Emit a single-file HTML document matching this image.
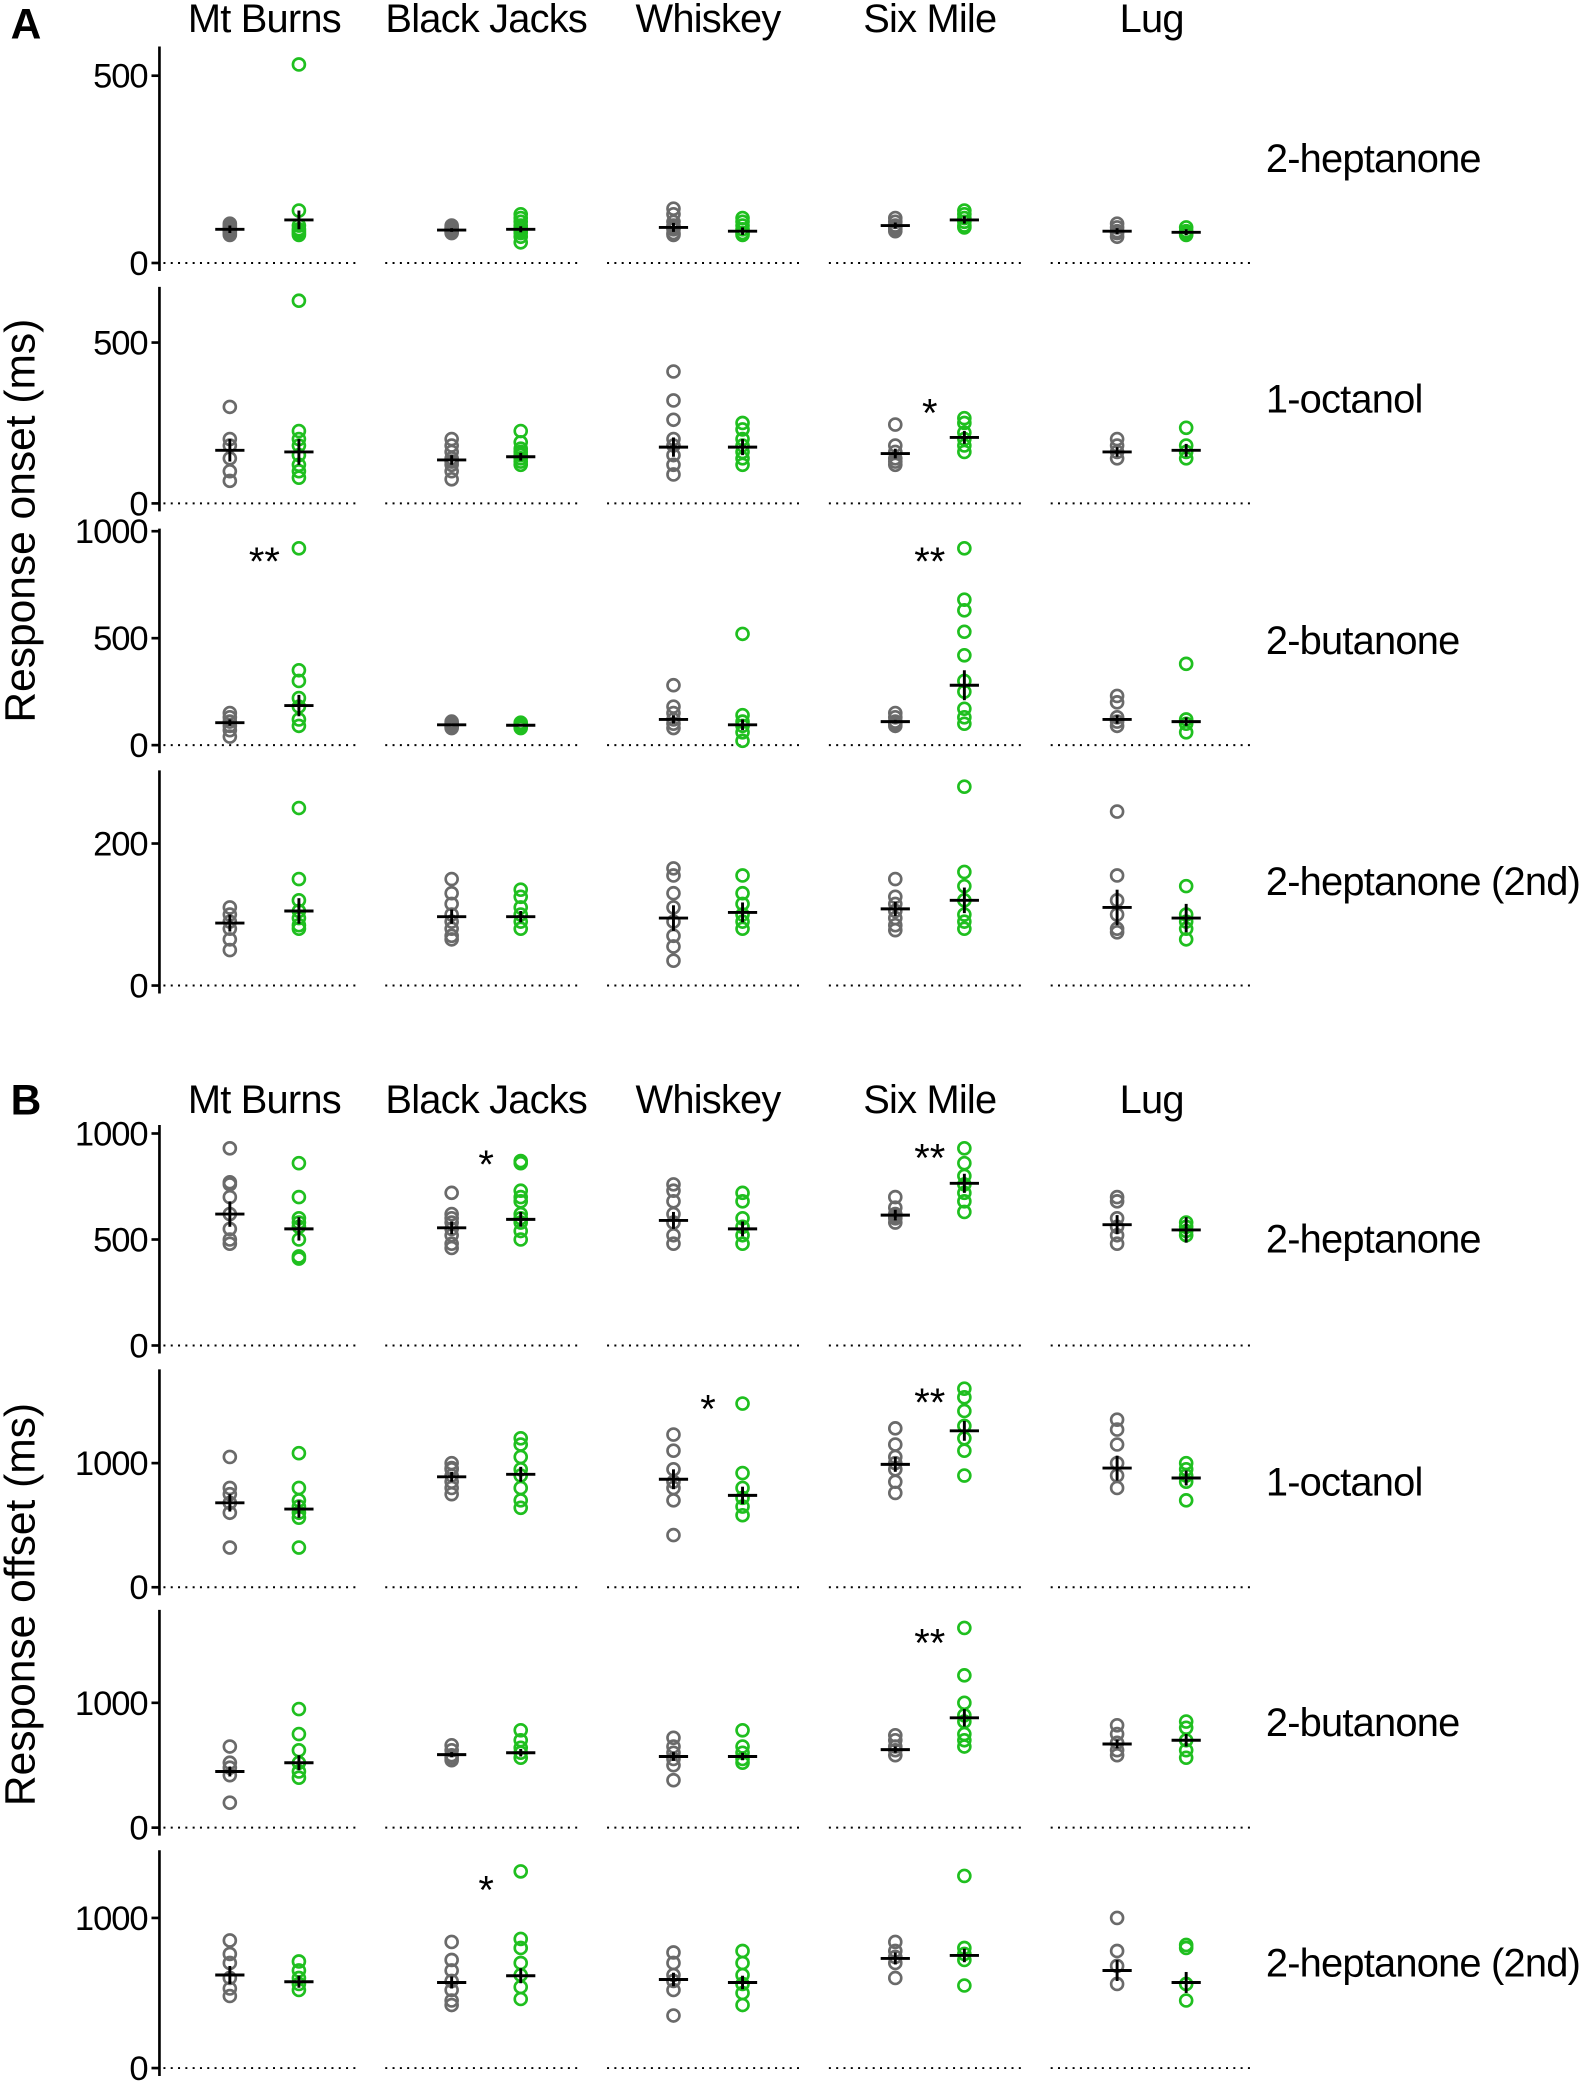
<!DOCTYPE html>
<html><head><meta charset="utf-8"><style>
html,body{margin:0;padding:0;background:#fff}
svg{display:block}
text{font-family:"Liberation Sans",Arial,sans-serif;fill:#000}
</style></head><body>
<svg id="chart" xmlns="http://www.w3.org/2000/svg" width="1594" height="2084" viewBox="0 0 1200 1569">
<g id="static">
<text x="8" y="29" font-size="32" font-weight="bold">A</text>
<text x="8" y="839" font-size="32" font-weight="bold">B</text>
<text transform="translate(26,392) rotate(-90)" text-anchor="middle" font-size="32">Response onset (ms)</text>
<text transform="translate(26,1208) rotate(-90)" text-anchor="middle" font-size="32">Response offset (ms)</text>
</g>
<g id="plot"></g>
</svg>
<script>
const sites = ["Mt Burns","Black Jacks","Whiskey","Six Mile","Lug"];
const odors = ["2-heptanone","1-octanol","2-butanone","2-heptanone (2nd)"];
const onsetPoints = [
 [[[75,80,85,88,90,95,100,105],[530,140,100,90,85,80,75]],[[80,83,85,88,90,93,95,100],[55,70,80,85,90,95,100,110,120,130]],[[145,130,110,100,95,90,80,75],[120,110,100,90,80,75]],[[120,110,100,97,95,90,85],[140,130,120,110,100,95]],[[105,95,85,80,70],[95,85,80,75]]],
 [[[300,200,180,140,100,70],[630,225,200,180,150,120,100,80]],[[200,180,160,140,130,120,100,75],[225,190,170,160,150,140,130,120]],[[410,320,260,200,180,150,120,90],[250,230,200,180,160,140,120]],[[245,180,160,140,130,120],[265,250,220,200,180,160]],[[200,180,160,140],[235,180,160,140]]],
 [[[150,130,110,90,70,40],[920,350,300,220,180,120,90]],[[110,100,95,90,85,80],[105,100,95,90,85,80]],[[280,180,150,120,100,80],[520,140,110,90,60,20]],[[150,130,110,100,90],[920,680,630,530,420,300,250,170,130,100]],[[230,200,130,110,90],[380,120,100,60]]],
 [[[110,100,90,80,65,50],[250,150,120,105,95,85,80]],[[150,130,115,100,90,80,70,65],[135,125,110,100,90,80]],[[165,155,130,110,90,70,55,35],[155,130,115,100,90,80]],[[150,125,115,105,95,85,78],[280,160,140,120,100,90,80]],[[245,155,120,100,80,75],[140,100,90,80,65]]]
];
const onsetMeans = [[[90,115],[88,90],[95,85],[100,115],[85,82]],[[165,160],[135,145],[175,175],[155,205],[160,165]],[[105,185],[95,93],[120,95],[110,280],[120,110]],[[88,105],[97,97],[95,103],[108,120],[110,95]]];
const onsetErrs = [[[10,25],[5,8],[12,10],[8,10],[8,8]],[[35,40],[15,12],[30,25],[15,20],[15,20]],[[15,50],[5,5],[20,25],[8,70],[20,20]],[[12,18],[10,8],[18,14],[10,18],[25,20]]];
const onsetMax = [578,673,1012,303];
const onsetTicks = [[0,500],[0,500],[0,500,1000],[0,200]];
const offsetPoints = [
 [[[930,770,760,700,620,550,500,480],[860,700,600,580,560,500,420,410]],[[720,620,600,580,550,520,480,460],[870,860,730,700,680,620,600,580,540,500]],[[760,730,680,620,580,520,480],[720,680,600,560,520,480]],[[700,650,620,610,600,580],[930,860,800,760,720,680,630]],[[700,680,600,560,520,480],[580,560,540,520]]],
 [[[1050,800,750,680,600,320],[1080,800,700,650,600,560,320]],[[1000,960,950,900,850,800,750],[1200,1150,1050,950,900,800,700,640]],[[1230,1100,950,850,800,700,420],[1480,920,800,720,650,580]],[[1280,1150,1050,1000,950,850,760],[1600,1530,1420,1300,1200,1100,900]],[[1350,1270,1150,1000,900,800],[1000,950,900,850,700]]],
 [[[650,520,480,420,200],[950,750,620,520,450,400]],[[660,620,580,560,540],[780,700,640,600,560]],[[720,650,600,550,500,380],[780,650,600,550,520]],[[740,700,650,620,580],[1600,1220,1000,900,850,750,700,650]],[[820,750,680,620,580],[850,800,700,620,560]]],
 [[[850,760,700,600,530,480],[710,650,600,560,520]],[[840,720,650,580,520,450,420],[1310,860,800,700,620,540,460]],[[770,700,620,580,520,350],[780,700,620,560,500,420]],[[840,780,740,700,600],[1280,800,760,720,550]],[[1000,780,680,560],[820,800,560,450]]]
];
const offsetMeans = [[[620,550],[555,595],[590,550],[615,765],[570,545]],[[680,630],[890,910],[870,740],[990,1260],[960,880]],[[450,520],[585,600],[570,570],[625,880],[670,700]],[[620,575],[570,615],[590,570],[730,750],[650,570]]];
const offsetErrs = [[[60,55],[30,35],[40,35],[25,45],[45,60]],[[70,70],[40,60],[80,70],[60,80],[100,60]],[[40,60],[20,30],[35,30],[25,70],[35,50]],[[60,40],[40,50],[45,45],[40,45],[70,70]]];
const offsetMax = [1040,1755,1745,1451];
const offsetTicks = [[0,500,1000],[0,1000],[0,1000],[0,1000]];
const onsetStars = [[1,3,"*"],[2,0,"**"],[2,3,"**"]];
const offsetStars = [[0,1,"*"],[0,3,"**"],[1,2,"*"],[1,3,"**"],[2,3,"**"],[3,1,"*"]];

const NS="http://www.w3.org/2000/svg";
const plot=document.getElementById('plot');
function mk(tag,attrs,parent){const e=document.createElementNS(NS,tag);for(const k in attrs)e.setAttribute(k,attrs[k]);(parent||plot).appendChild(e);return e;}
const AX=120, COLW=167;
function xGray(i){return 173+COLW*i;}
function xGreen(i){return 225+COLW*i;}

function panel(zeros,heights,points,means,errs,maxes,ticks,stars,titleY,prefix){
  sites.forEach((s,i)=>{
    const t=mk('text',{x:(xGray(i)+xGreen(i))/2,y:titleY,'text-anchor':'middle','font-size':30,'letter-spacing':'-0.6'});
    
    
    t.textContent=s;
  });
  odors.forEach((od,r)=>{
    const z=zeros[r], h=heights[r], mx=maxes[r];
    const y=v=>z-v/mx*h;
    const g=mk('g',{});
    
    
    const ax=mk('line',{x1:AX,y1:z+6,x2:AX,y2:z-h,stroke:'#000','stroke-width':2},g);
    
    
    ticks[r].forEach(tv=>{
      mk('line',{x1:AX-6,x2:AX,y1:y(tv),y2:y(tv),stroke:'#000','stroke-width':2},g);
      const tl=mk('text',{x:AX-9,y:y(tv)+9,'text-anchor':'end','font-size':26,'letter-spacing':'-0.8'},g);
      
      
      tl.textContent=tv;
    });
    sites.forEach((s,i)=>{
      const d=mk('line',{x1:123+COLW*i,x2:(i==4?943:268+COLW*i),y1:z,y2:z,stroke:'#000','stroke-width':1.5,'stroke-dasharray':'1.5,4'},g);
      
      
      [0,1].forEach(k=>{
        const cx=k?xGreen(i):xGray(i);
        const col=k?'#1fbf1f':'#6a6a6a';
        points[r][i][k].forEach(v=>{
          const c=mk('circle',{cx:cx,cy:y(v),r:4.5,fill:'none',stroke:col,'stroke-width':2},g);
          
          
        });
        const m=means[r][i][k], e=errs[r][i][k];
        const eb=mk('line',{x1:cx,x2:cx,y1:y(m-e),y2:y(m+e),stroke:'#000','stroke-width':2.2},g);
        
        
        const mb=mk('line',{x1:cx-11,x2:cx+11,y1:y(m),y2:y(m),stroke:'#000','stroke-width':2.2},g);
        
        
      });
    });
    const lab=mk('text',{x:953,y:(z+(z-h))/2+13,'font-size':30,'letter-spacing':'-0.6'},g);
    
    
    lab.textContent=od;
  });
  stars.forEach(st=>{
    const r=st[0],i=st[1];
    const z=zeros[r],h=heights[r];
    const yy=z-h+(st[2]=="*"?(r==1&&prefix=='onset'?105:40):35);
    const t=mk('text',{x:(xGray(i)+xGreen(i))/2,y:yy,'text-anchor':'middle','font-size':30});
    
    
    t.textContent=st[2];
  });
}
panel([198,379,561,742],[163,163,163,162],onsetPoints,onsetMeans,onsetErrs,onsetMax,onsetTicks,onsetStars,24,'onset');
panel([1013,1195,1376,1557],[166,164,164,164],offsetPoints,offsetMeans,offsetErrs,offsetMax,offsetTicks,offsetStars,838,'offset');
</script>
</body></html>
